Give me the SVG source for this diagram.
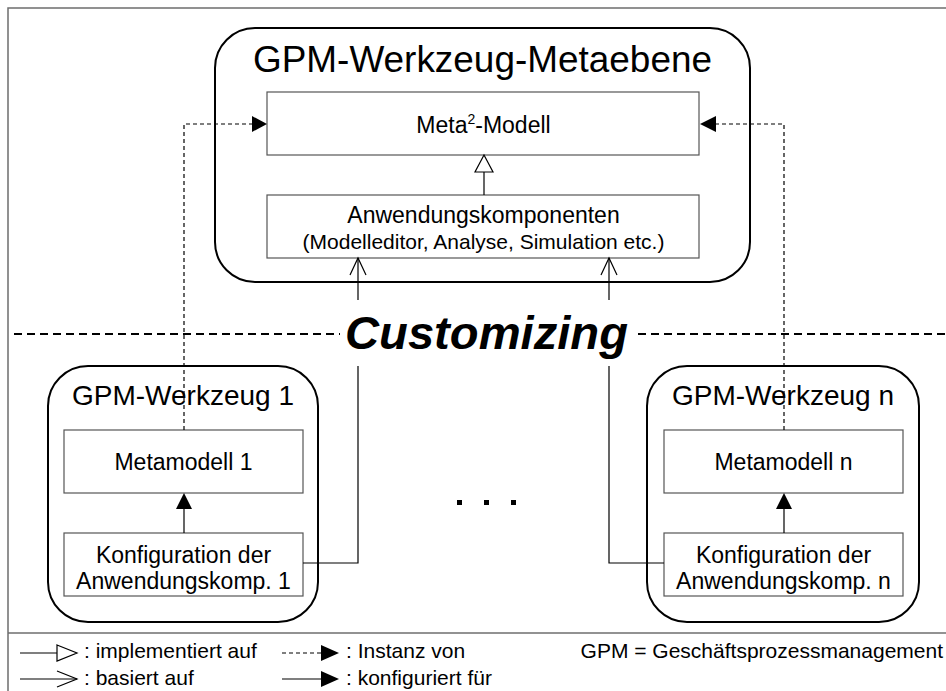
<svg xmlns="http://www.w3.org/2000/svg" width="946" height="691" viewBox="0 0 946 691">
  <style>
    text { font-family: "Liberation Sans", Arial, sans-serif; fill: #000; }
    .frame { fill: none; stroke: #6e6e6e; stroke-width: 1.5; }
    .tool { fill: #fff; stroke: #000; stroke-width: 2; }
    .box { fill: #fff; stroke: #555; stroke-width: 1.2; }
    .line { fill: none; stroke: #000; stroke-width: 1.2; }
    .dash { fill: none; stroke: #000; stroke-width: 1.2; stroke-dasharray: 4 3; }
    .sep { fill: none; stroke: #000; stroke-width: 2; stroke-dasharray: 8 5; }
    .fillhead { fill: #000; stroke: none; }
    .hollow { fill: #fff; stroke: #000; stroke-width: 1.2; }
    .t36 { font-size: 36px; }
    .t28 { font-size: 28px; }
    .t23 { font-size: 23px; }
    .t21 { font-size: 21px; }
    .mid { text-anchor: middle; }
  </style>

  <!-- outer frame and legend divider -->
  <path class="frame" d="M8 691 V8 H946"/>
  <line class="frame" x1="8" y1="633" x2="946" y2="633"/>

  <!-- level separator -->
  <line class="sep" x1="14" y1="334" x2="946" y2="334"/>

  <!-- meta level -->
  <g id="meta-level">
    <rect class="tool" x="215" y="28" width="535" height="254" rx="40" ry="40"/>
    <text class="t36 mid" x="482.5" y="72" textLength="459" lengthAdjust="spacingAndGlyphs">GPM-Werkzeug-Metaebene</text>
  </g>

  <g id="meta2-model">
    <rect class="box" x="267" y="92" width="432" height="63"/>
    <text class="t23 mid" x="483.5" y="133">Meta<tspan font-size="14" dy="-9">2</tspan><tspan dy="9">-Modell</tspan></text>
  </g>

  <g id="app-components">
    <rect class="box" x="267" y="195" width="432" height="63"/>
    <text class="t23 mid" x="483.5" y="223">Anwendungskomponenten</text>
    <text class="t21 mid" x="483.5" y="249">(Modelleditor, Analyse, Simulation etc.)</text>
  </g>

  <!-- tool 1 -->
  <g id="tool-1">
    <rect class="tool" x="48" y="366" width="270" height="256" rx="40" ry="40"/>
    <text class="t28 mid" x="183" y="405">GPM-Werkzeug 1</text>
  </g>
  <g id="metamodel-1">
    <rect class="box" x="64" y="430" width="239" height="63"/>
    <text class="t23 mid" x="183.5" y="470">Metamodell 1</text>
  </g>
  <g id="config-1">
    <rect class="box" x="64" y="533" width="239" height="63"/>
    <text class="t23 mid" x="183.5" y="563">Konfiguration der</text>
    <text class="t23 mid" x="183.5" y="589">Anwendungskomp. 1</text>
  </g>

  <!-- tool n -->
  <g id="tool-n">
    <rect class="tool" x="647" y="366" width="272" height="256" rx="40" ry="40"/>
    <text class="t28 mid" x="783" y="405">GPM-Werkzeug n</text>
  </g>
  <g id="metamodel-n">
    <rect class="box" x="664" y="430" width="239" height="63"/>
    <text class="t23 mid" x="783.5" y="470">Metamodell n</text>
  </g>
  <g id="config-n">
    <rect class="box" x="664" y="533" width="239" height="63"/>
    <text class="t23 mid" x="783.5" y="563">Konfiguration der</text>
    <text class="t23 mid" x="783.5" y="589">Anwendungskomp. n</text>
  </g>

  <!-- connectors -->
  <g id="connectors">
    <!-- implementiert auf -->
    <line class="line" x1="484" y1="172" x2="484" y2="195"/>
    <polygon class="hollow" points="484,155 475,172 493,172"/>

    <!-- Instanz von -->
    <polyline class="dash" points="184,430 184,124 254,124"/>
    <polygon class="fillhead" points="267,124 252,116 252,132"/>
    <polyline class="dash" points="784,430 784,124 714,124"/>
    <polygon class="fillhead" points="700,124 716,116 716,132"/>

    <!-- konfiguriert für -->
    <line class="line" x1="184" y1="533" x2="184" y2="507"/>
    <polygon class="fillhead" points="184,493 176,509 192,509"/>
    <line class="line" x1="784" y1="533" x2="784" y2="507"/>
    <polygon class="fillhead" points="784,493 776,509 792,509"/>

    <!-- basiert auf -->
    <polyline class="line" points="303,563 358,563 358,258"/>
    <polyline class="line" points="350,275 358,258 366,275"/>
    <polyline class="line" points="664,563 609,563 609,258"/>
    <polyline class="line" points="601,275 609,258 617,275"/>
  </g>

  <!-- separator label -->
  <g id="customizing">
    <rect x="340" y="300" width="298" height="66" fill="#fff"/>
    <text x="486.5" y="349" text-anchor="middle" font-size="47" font-weight="bold" font-style="italic" textLength="283" lengthAdjust="spacingAndGlyphs">Customizing</text>
  </g>

  <!-- ellipsis between tools -->
  <g id="ellipsis" fill="#000">
    <rect x="457" y="500" width="5" height="5"/>
    <rect x="484" y="500" width="5" height="5"/>
    <rect x="511" y="500" width="5" height="5"/>
  </g>

  <!-- legend -->
  <g id="legend">
    <line class="line" x1="20" y1="653" x2="57" y2="653"/>
    <polygon class="hollow" points="57,645 77,653 57,661"/>
    <text class="t21" x="84" y="658">: implementiert auf</text>

    <line class="line" x1="20" y1="679" x2="77" y2="679"/>
    <polyline class="line" points="57,671 77,679 57,687"/>
    <text class="t21" x="84" y="685">: basiert auf</text>

    <line class="dash" x1="282" y1="653" x2="322" y2="653"/>
    <polygon class="fillhead" points="321,645 339,653 321,661"/>
    <text class="t21" x="346" y="658">: Instanz von</text>

    <line class="line" x1="282" y1="679" x2="322" y2="679"/>
    <polygon class="fillhead" points="321,671 339,679 321,687"/>
    <text class="t21" x="346" y="685">: konfiguriert für</text>

    <text class="t21" x="943" y="658" text-anchor="end">GPM = Geschäftsprozessmanagement</text>
  </g>
</svg>
